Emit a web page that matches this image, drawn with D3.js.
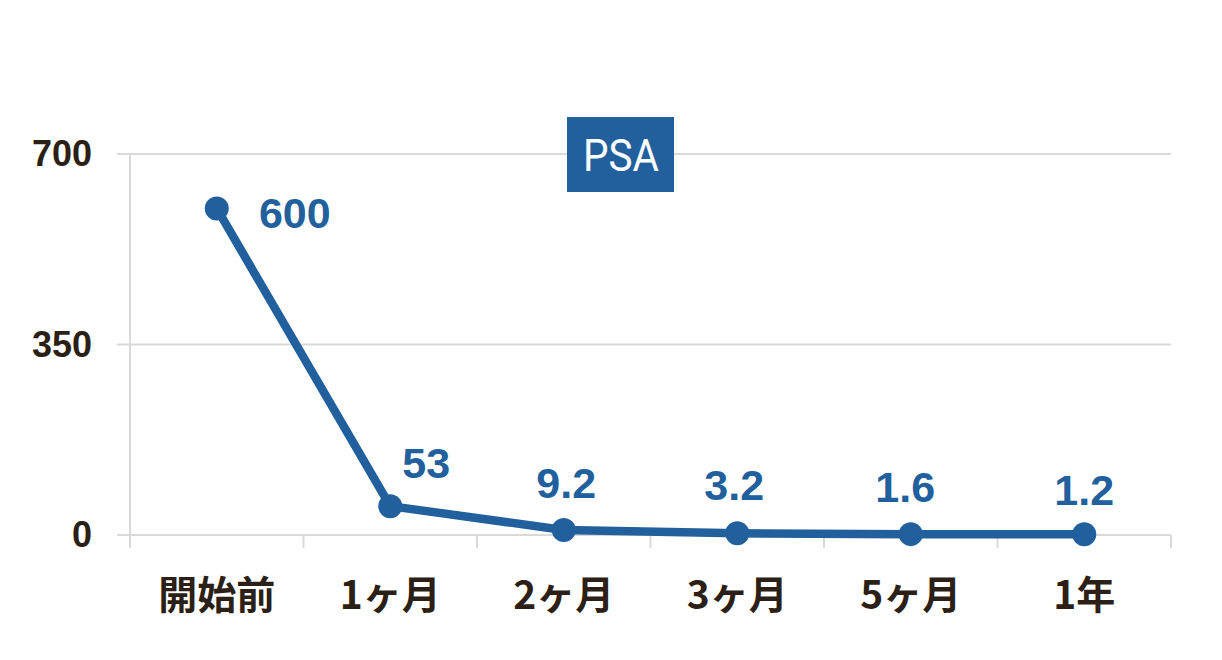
<!DOCTYPE html>
<html><head><meta charset="utf-8">
<script src="https://cdn.jsdelivr.net/npm/d3@7"></script>
<style>body{margin:0;background:#fff}svg{display:block}</style>
</head><body>
<svg id="c" width="1222" height="660"></svg>
<script>
const categories = ["開始前","1ヶ月","2ヶ月","3ヶ月","5ヶ月","1年"];
const values = [600, 53, 9.2, 3.2, 1.6, 1.2];
const labels = ["600","53","9.2","3.2","1.6","1.2"];
const yTicks = [0, 350, 700];
const title = "PSA";

const svg = d3.select("#c");
const blue = "#21609c", grid = "#d9d9d9", dark = "#2b1f16";
const x = d3.scaleBand().domain(categories).range([130, 1171]);
const y = d3.scaleLinear().domain([0, 700]).range([535, 154]);

// gridlines
svg.append("g").selectAll("line").data(yTicks).join("line")
  .attr("x1", 117).attr("x2", 1171)
  .attr("y1", d => y(d)).attr("y2", d => y(d))
  .attr("stroke", grid).attr("stroke-width", 2);
// left axis line
svg.append("line").attr("x1",130).attr("x2",130).attr("y1",154).attr("y2",548)
  .attr("stroke", grid).attr("stroke-width", 2);
// x ticks
const tickPos = categories.map(c => x(c)).concat([x.range()[1]]);
svg.append("g").selectAll("line").data(tickPos.slice(1)).join("line")
  .attr("x1", d => d).attr("x2", d => d).attr("y1", 535).attr("y2", 548)
  .attr("stroke", grid).attr("stroke-width", 2);

// y labels
svg.append("g").selectAll("text").data(yTicks).join("text")
  .attr("x", 92).attr("y", d => y(d) + 12).attr("text-anchor","end")
  .attr("font-family","'Liberation Sans', Arial, sans-serif").attr("font-weight","bold")
  .attr("font-size", 36).attr("fill", dark).text(d => d);

// x labels
svg.append("g").selectAll("text").data(categories).join("text")
  .attr("x", d => x(d) + x.bandwidth()/2).attr("y", 609).attr("text-anchor","middle")
  .attr("font-family","'Noto Sans CJK JP', sans-serif").attr("font-weight","bold")
  .attr("font-size", 39).attr("fill", dark).text(d => d);

// line
const cx = d => x(d) + x.bandwidth()/2;
const line = d3.line().x((d,i) => cx(categories[i])).y(d => y(d));
svg.append("path").datum(values).attr("d", line).attr("fill","none")
  .attr("stroke", blue).attr("stroke-width", 8.5).attr("stroke-linejoin","round");
svg.append("g").selectAll("circle").data(values).join("circle")
  .attr("cx", (d,i) => cx(categories[i])).attr("cy", d => y(d)).attr("r", 12).attr("fill", blue);

// data labels
const dx = [78, 36, 2.5, -3, -5.5, 0];
const dy = [20, -28, -32, -33, -32, -29];
svg.append("g").selectAll("text").data(values).join("text")
  .attr("x", (d,i) => cx(categories[i]) + dx[i]).attr("y", (d,i) => y(d) + dy[i])
  .attr("text-anchor","middle")
  .attr("font-family","'Liberation Sans', Arial, sans-serif").attr("font-weight","bold")
  .attr("font-size", 43).attr("fill", blue).text((d,i) => labels[i]);

// title box
svg.append("rect").attr("x",567).attr("y",117).attr("width",107).attr("height",75).attr("fill", blue);
svg.append("text").attr("x", 583).attr("y", 171)
  .attr("textLength", 76).attr("lengthAdjust","spacingAndGlyphs")
  .attr("font-family","Roboto, sans-serif").attr("font-size", 45).attr("fill","#fff").text(title);
</script>
</body></html>
